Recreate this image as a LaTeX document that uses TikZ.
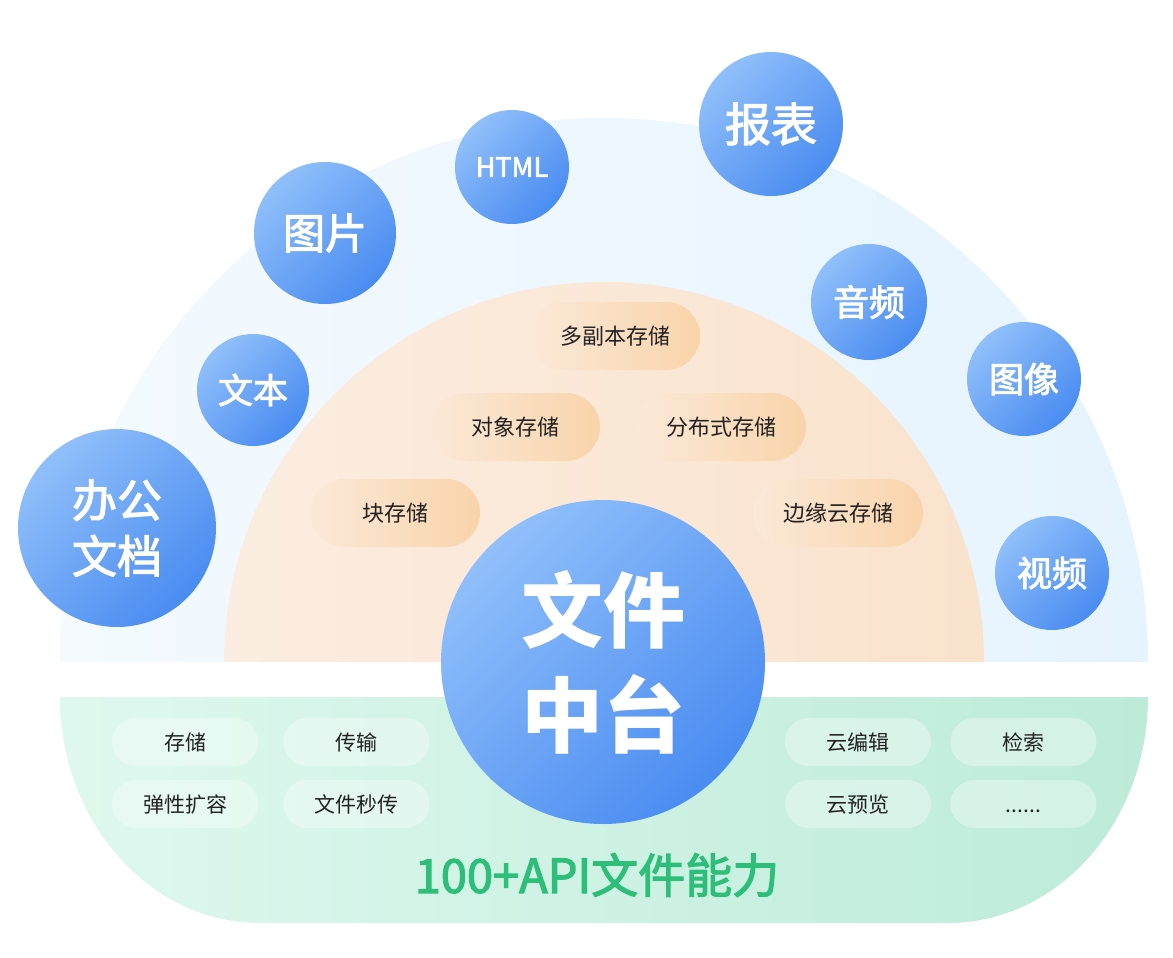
\documentclass[tikz,border=0pt]{standalone}
\usepackage{fontspec}
\setmainfont{Noto Sans CJK SC}
\newfontfamily\midfont{Noto Sans CJK SC}[FakeBold=2.5]
\usepackage{tikz}
\usetikzlibrary{shapes,positioning}

\definecolor{bluehi}{HTML}{90BFFA}
\definecolor{bluelo}{HTML}{4A8CF1}
\definecolor{skyA}{HTML}{F4FAFE}
\definecolor{skyB}{HTML}{E6F4FE}
\definecolor{peachA}{HTML}{FBEDE1}
\definecolor{peachB}{HTML}{FAE3CD}
\definecolor{pillA}{HTML}{FBE9D9}
\definecolor{pillB}{HTML}{F9D4AA}
\definecolor{mintA}{HTML}{DFF8EF}
\definecolor{mintB}{HTML}{BDEBD9}
\definecolor{ink}{HTML}{222222}
\definecolor{apigreen}{HTML}{2DBF7A}

\begin{document}
\begin{tikzpicture}[x=1pt,y=-1pt,
    bubble/.style={circle, inner sep=0pt, text=white,
      top color=bluehi, bottom color=bluelo, shading angle=45, align=center},
    storepill/.style={rectangle, rounded corners=34pt, minimum width=170pt,
      minimum height=68pt, left color=pillA, right color=pillB, text=ink,
      text height=19pt, text depth=3pt, font=\fontsize{22}{26}\selectfont},
    apipill/.style={rectangle, rounded corners=24pt, minimum width=146pt,
      minimum height=48pt, fill=white, fill opacity=0.35, text opacity=1,
      text height=18.5pt, text depth=2.5pt, text=ink, font=\fontsize{21}{25}\selectfont}]
  \useasboundingbox (0,0) rectangle (1173,958);

  % background layers
  \shade[left color=skyA, right color=skyB] (60,662) arc[start angle=180, end angle=360, radius=544] -- cycle;
  \shade[left color=peachA, right color=peachB] (224,662) arc[start angle=180, end angle=360, radius=380] -- cycle;
  \shade[left color=mintA, right color=mintB] (60,697) -- (1148,697)
    arc[start angle=0, end angle=90, x radius=200, y radius=226] -- (260,923)
    arc[start angle=90, end angle=180, x radius=200, y radius=226] -- cycle;

  % storage pills
  \node[storepill] (multi) at (615,336) {多副本存储};
  \node[storepill] (object) at (515,427) {对象存储};
  \node[storepill] (distrib) at (721,427) {分布式存储};
  \node[storepill] (block) at (395,513) {块存储};
  \node[storepill] (edge) at (838,513) {边缘云存储};

  % capability pills
  \node[apipill] (store) at (185,742) {存储};
  \node[apipill, right=25pt of store] (transfer) {传输};
  \node[apipill] (scale) at (185,804) {弹性扩容};
  \node[apipill, right=25pt of scale] (fast) {文件秒传};
  \node[apipill] (edit) at (858,742) {云编辑};
  \node[apipill, right=19pt of edit] (search) {检索};
  \node[apipill] (preview) at (858,804) {云预览};
  \node[apipill, right=19pt of preview] (more) {......};

  \node[text=apigreen, font=\midfont\fontsize{47}{50}\selectfont] (api) at (597,875) {100+API文件能力};

  % file types
  \node[bubble, minimum size=198pt, font=\midfont\fontsize{45}{56}\selectfont] (office) at (117,528) {办公\\文档};
  \node[bubble, minimum size=112pt, font=\midfont\fontsize{35}{40}\selectfont] (text) at (253,390) {文本};
  \node[bubble, minimum size=142pt, font=\midfont\fontsize{42}{48}\selectfont] (image) at (325,233) {图片};
  \node[bubble, minimum size=114pt, font=\midfont\fontsize{27}{32}\selectfont] (html) at (512,167) {HTML};
  \node[bubble, minimum size=144pt, font=\midfont\fontsize{46}{52}\selectfont] (report) at (771,124) {报表};
  \node[bubble, minimum size=116pt, font=\midfont\fontsize{36}{40}\selectfont] (audio) at (869,302) {音频};
  \node[bubble, minimum size=114pt, font=\midfont\fontsize{35}{40}\selectfont] (picture) at (1024,379) {图像};
  \node[bubble, minimum size=114pt, font=\midfont\fontsize{35}{40}\selectfont] (video) at (1052,573) {视频};

  % centre
  \node[bubble, minimum size=324pt, font=\bfseries\fontsize{82}{105}\selectfont] (core) at (603,662) {文件\\中台};
\end{tikzpicture}
\end{document}
